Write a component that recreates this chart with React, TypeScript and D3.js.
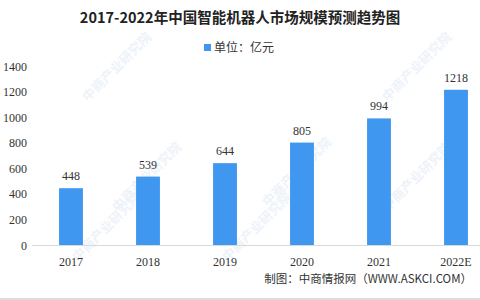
import React from "react";
import * as d3 from "d3";

const categories = ["2017", "2018", "2019", "2020", "2021", "2022E"];
const values = [448, 539, 644, 805, 994, 1218];
const yTicks = [0, 200, 400, 600, 800, 1000, 1200, 1400];

const W = 480;
const H = 300;
const CJK = "'Noto Sans CJK SC', 'Noto Sans', sans-serif";
const NUM = "'Liberation Serif', 'DejaVu Serif', serif";

export default function App() {
  const x = d3
    .scaleBand<string>()
    .domain(categories)
    .range([32.5, 494.5])
    .paddingInner(0.69)
    .paddingOuter(0.345);
  const y = d3.scaleLinear().domain([0, 1400]).range([245.5, 66.5]);

  const marks = [
    [120, 70], [420, 70], [150, 180], [300, 175], [420, 180], [110, 230], [260, 230]
  ];

  return (
    <svg width={W} height={H} style={{ position: "absolute", left: 0, top: 0, background: "#fff" }}>
      <rect x={0} y={0} width={W} height={H} fill="#fff" />
      {marks.map(([mx, my], i) => (
        <text
          key={i}
          x={mx}
          y={my}
          transform={`rotate(-45 ${mx} ${my})`}
          fontFamily={CJK}
          fontSize={13}
          fontWeight="bold"
          fill="#eef3f9"
          textAnchor="middle"
        >
          中商产业研究院
        </text>
      ))}
      <text x={240} y={23} textAnchor="middle" fontFamily={CJK} fontSize={14.5} fontWeight="bold" fill="#222">
        2017-2022年中国智能机器人市场规模预测趋势图
      </text>
      <rect x={204} y={44} width={7} height={7} fill="#3f97f0" />
      <text x={214} y={51.5} fontFamily={CJK} fontSize={12} fill="#333">
        单位：亿元
      </text>
      {yTicks.map((t) => (
        <text key={t} x={27} y={y(t) + 4} textAnchor="end" fontFamily={NUM} fontSize={12} fill="#333">
          {t}
        </text>
      ))}
      {categories.map((c, i) => (
        <g key={c}>
          <rect
            x={x(c)!}
            y={y(values[i])}
            width={x.bandwidth()}
            height={y(0) - y(values[i])}
            fill="#3f97f0"
          />
          <text
            x={x(c)! + x.bandwidth() / 2}
            y={y(values[i]) - 8}
            textAnchor="middle"
            fontFamily={NUM}
            fontSize={12}
            fill="#333"
          >
            {values[i]}
          </text>
          <text
            x={x(c)! + x.bandwidth() / 2}
            y={266}
            textAnchor="middle"
            fontFamily={NUM}
            fontSize={12}
            fill="#333"
          >
            {c}
          </text>
        </g>
      ))}
      <line x1={32} x2={W} y1={245.5} y2={245.5} stroke="#d9d9d9" strokeWidth={1} />
      <text x={472} y={283} textAnchor="end" fontFamily={CJK} fontSize={11.5} fill="#333">
        制图：中商情报网（WWW.ASKCI.COM）
      </text>
      <line x1={0} x2={W} y1={299} y2={299} stroke="#d0d0d0" strokeWidth={1.5} />
    </svg>
  );
}
